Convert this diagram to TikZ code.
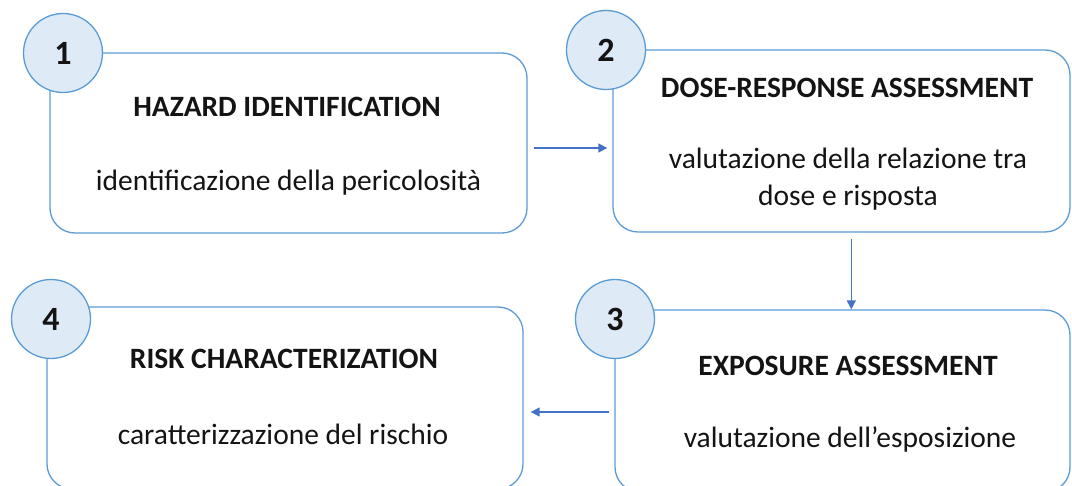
\documentclass[tikz,border=0pt]{standalone}
\usepackage{fontspec}
\setmainfont{Carlito}
\usetikzlibrary{arrows.meta}
\definecolor{boxline}{HTML}{5B9BD5}
\definecolor{circfill}{HTML}{DEEBF7}
\definecolor{arrowblue}{HTML}{4472C4}
\definecolor{txt}{HTML}{141414}

\begin{document}
\begin{tikzpicture}[x=1pt, y=-1pt, >={Triangle[length=9pt,width=9pt]},
    stepbox/.style={draw=boxline, line width=1.3pt, rounded corners=25pt, fill=white, inner sep=0pt},
    numcirc/.style={circle, draw=boxline, line width=1.3pt, fill=circfill, minimum size=79pt, inner sep=0pt,
      text=txt, font=\fontsize{34}{34}\selectfont\bfseries},
    title/.style={text=txt, font=\fontsize{29.5}{32}\selectfont\bfseries},
    desc/.style={text=txt, align=center, font=\fontsize{29.5}{37}\selectfont},
    flow/.style={->, arrowblue, line width=1.5pt}]
  \useasboundingbox (0,0) rectangle (1072,486);
  \clip (0,0) rectangle (1072,486);

  % the four boxes
  \node[stepbox, minimum width=477pt, minimum height=180pt] (b1) at (288.5,143) {};
  \node[stepbox, minimum width=457pt, minimum height=182pt] (b2) at (841.5,141) {};
  \node[stepbox, minimum width=455pt, minimum height=182pt] (b3) at (842.5,401) {};
  \node[stepbox, minimum width=476pt, minimum height=182pt] (b4) at (285,398) {};

  % numbers
  \node[numcirc] (c1) at (63,53) {1};
  \node[numcirc] (c2) at (606,50) {2};
  \node[numcirc] (c3) at (615,319) {3};
  \node[numcirc] (c4) at (51,319) {4};

  % texts
  \node[title] (t1) at (287,107) {HAZARD IDENTIFICATION};
  \node[desc]  (d1) at (288.5,183) {identificazione della pericolosità};
  \node[title] (t2) at (847,88) {DOSE-RESPONSE ASSESSMENT};
  \node[desc]  (d2) at (848,179) {valutazione della relazione tra\\dose e risposta};
  \node[title] (t3) at (848,366) {EXPOSURE ASSESSMENT};
  \node[desc]  (d3) at (850,439) {valutazione dell’esposizione};
  \node[title] (t4) at (284,359) {RISK CHARACTERIZATION};
  \node[desc]  (d4) at (283,434) {caratterizzazione del rischio};

  % arrows
  \coordinate (a1) at ([xshift=6pt,yshift=-5pt]b1.east);
  \coordinate (a2) at ([xshift=9.8pt,yshift=-6pt]b2.south);
  \coordinate (a3) at ([xshift=-5pt,yshift=-11pt]b3.west);
  \draw[flow, shorten >=5pt] (a1) -- (a1 -| b2.west);
  \draw[flow] (a2) -- (a2 |- b3.north);
  \draw[flow, shorten >=7pt] (a3) -- (a3 -| b4.east);
\end{tikzpicture}
\end{document}
